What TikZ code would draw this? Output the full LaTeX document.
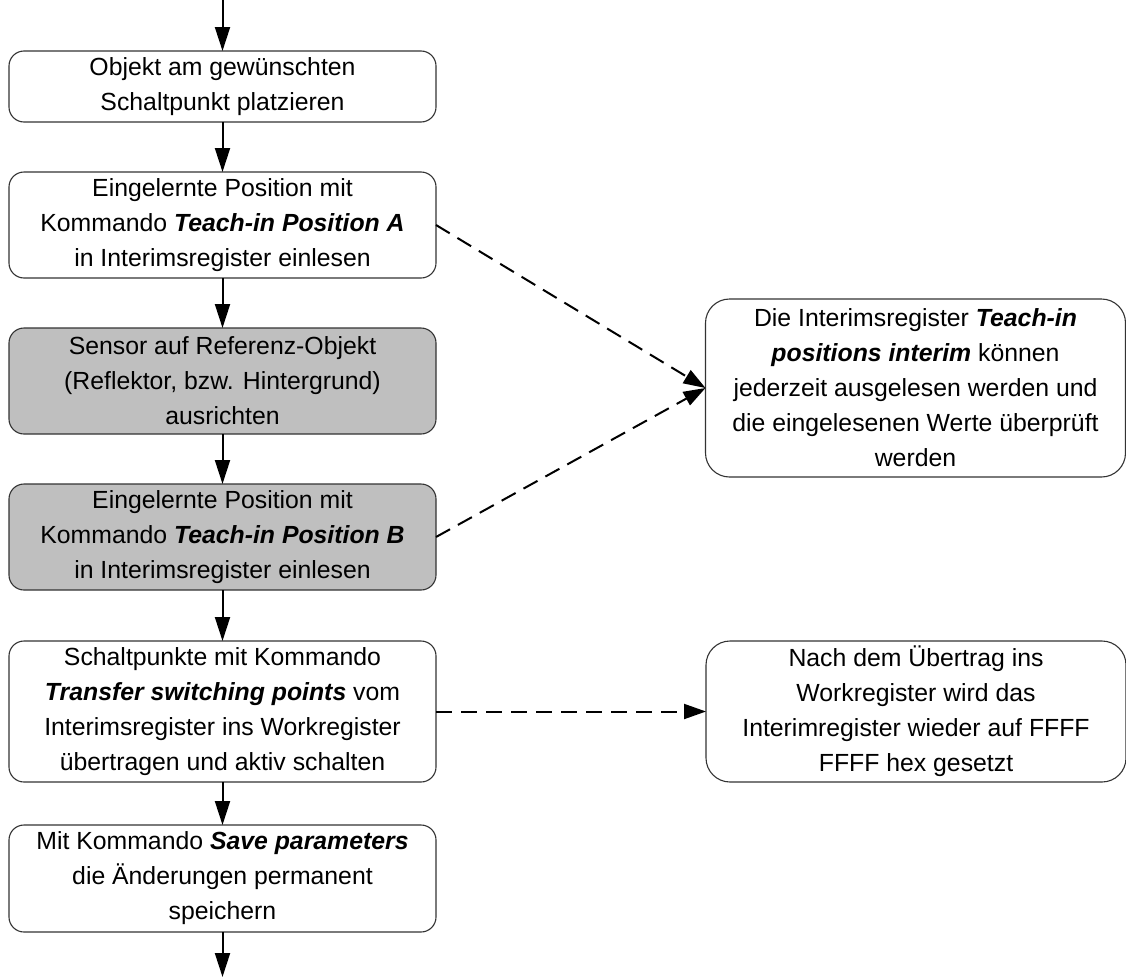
\documentclass[tikz,border=0pt]{standalone}
\usepackage{fontspec}
\setmainfont{Liberation Sans}
\usetikzlibrary{arrows.meta}
\tikzset{
  stepbox/.style={draw=black!80, line width=1.1pt, rounded corners=15pt, fill=white,
    minimum width=427pt, inner sep=0pt, outer sep=0pt, align=center,
    font=\fontsize{24.8}{35}\selectfont},
  greybox/.style={stepbox, fill=black!25},
  notebox/.style={stepbox, rounded corners=24pt, minimum width=420pt},
  flow/.style={line width=2pt, -{Triangle[length=24pt,width=15pt]}},
  dflow/.style={line width=2pt, dash pattern=on 16pt off 9pt, -{Triangle[length=22pt,width=15pt]}}
}
\newcommand{\bi}[1]{\textbf{\textit{#1}}}
\begin{document}
\begin{tikzpicture}[x=1pt,y=-1pt]
\useasboundingbox (0,0) rectangle (1126,977);
\coordinate (top) at (222.5,0);
\coordinate (bot) at (222.5,977);
\node[stepbox, minimum height=71pt] (b1) at (222.5,86.5) {Objekt am gewünschten\\Schaltpunkt platzieren};
\node[stepbox, minimum height=106pt] (b2) at (222.5,225) {Eingelernte Position mit\\Kommando \bi{Teach-in Position A}\\in Interimsregister einlesen};
\node[greybox, minimum height=106pt] (b3) at (222.5,381) {Sensor auf Referenz-Objekt\\(Reflektor, bzw. Hintergrund)\\ausrichten};
\node[greybox, minimum height=106pt] (b4) at (222.5,537) {Eingelernte Position mit\\Kommando \bi{Teach-in Position B}\\in Interimsregister einlesen};
\node[stepbox, minimum height=141pt] (b5) at (222.5,711.5) {Schaltpunkte mit Kommando\\\bi{Transfer switching points} vom\\Interimsregister ins Workregister\\übertragen und aktiv schalten};
\node[stepbox, minimum height=107pt] (b6) at (222.5,878.5) {Mit Kommando \bi{Save parameters}\\die Änderungen permanent\\speichern};
\node[notebox, minimum height=178pt] (r1) at (915.5,388) {Die Interimsregister \bi{Teach-in}\\\bi{positions interim} können\\jederzeit ausgelesen werden und\\die eingelesenen Werte überprüft\\werden};
\node[notebox, minimum height=141pt] (r2) at (916,711.5) {Nach dem Übertrag ins\\Workregister wird das\\Interimregister wieder auf FFFF\\FFFF hex gesetzt};
\draw[flow] (top) -- (b1);
\draw[flow] (b1) -- (b2);
\draw[flow] (b2) -- (b3);
\draw[flow] (b3) -- (b4);
\draw[flow] (b4) -- (b5);
\draw[flow] (b5) -- (b6);
\draw[flow] (b6) -- (bot);
\draw[dflow] (b2.east) -- (r1.west);
\draw[dflow] (b4.east) -- (r1.west);
\draw[dflow] (b5.east) -- (r2.west);
\end{tikzpicture}
\end{document}
